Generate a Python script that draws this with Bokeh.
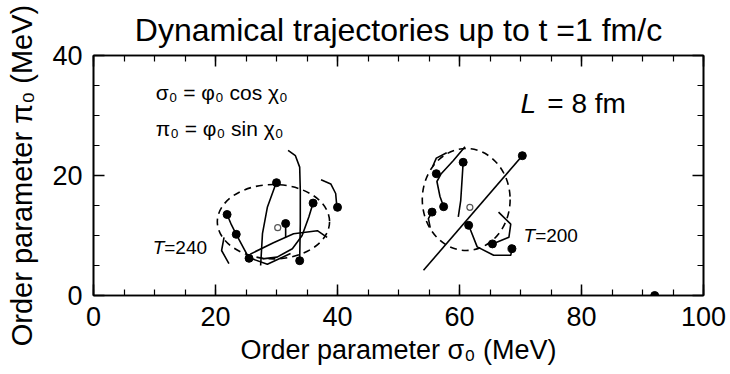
from bokeh.plotting import figure
from bokeh.models import Range1d, LinearAxis, Label, SingleIntervalTicker
from bokeh.embed import file_html
from bokeh.resources import INLINE

# ---------------- data ----------------
# T = 240 MeV cluster: trajectories up to t = 1 fm/c
traj240_x = [
    [31.9, 33.1, 33.8, 33.9, 33.9, 33.8],
    [30.0, 28.5, 27.7, 27.4],
    [37.3, 38.9, 39.7, 39.9],
    [36.0, 35.3, 34.2, 32.6, 30.1, 27.7],
    [25.7, 29.5, 32.8, 36.7, 38.3],
    [31.5, 31.5],
    [21.9, 22.6, 23.4, 25.5],
    [21.4, 21.0, 22.2],
    [25.5, 28.5, 32.3],
]
traj240_y = [
    [24.2, 23.3, 21.4, 17.5, 12.0, 5.8],
    [18.9, 14.7, 10.3, 5.0],
    [19.3, 18.6, 17.0, 14.7],
    [15.4, 13.1, 10.0, 7.8, 6.4, 6.1],
    [6.9, 8.8, 10.3, 10.8, 9.7],
    [12.2, 9.7],
    [13.5, 11.8, 10.2, 6.2],
    [9.7, 7.5, 5.3],
    [6.3, 5.2, 7.0],
]
end240_x = [21.9, 23.4, 25.5, 30.0, 31.5, 36.0, 40.0, 33.8]
end240_y = [13.5, 10.2, 6.2, 18.8, 12.0, 15.4, 14.7, 5.8]

# T = 200 MeV cluster
traj200_x = [
    [54.1, 70.3],
    [60.9, 59.0, 57.0, 56.3, 56.8, 57.4],
    [60.6, 60.4, 60.2, 59.8],
    [55.5, 54.9, 55.2],
    [61.5, 62.9, 65.6, 68.4, 68.6],
    [66.4, 68.4, 68.1, 65.4],
    [55.6, 56.2, 57.9],
]
traj200_y = [
    [4.2, 23.3],
    [24.8, 22.5, 20.3, 19.0, 16.5, 14.8],
    [22.2, 19.0, 15.8, 13.1],
    [13.9, 12.8, 11.3],
    [11.7, 8.1, 6.7, 6.7, 7.8],
    [13.9, 11.9, 9.7, 8.6],
    [21.5, 22.9, 23.8],
]
end200_x = [70.3, 60.6, 56.2, 57.4, 55.5, 61.5, 65.4, 68.6]
end200_y = [23.3, 22.2, 20.3, 14.8, 13.9, 11.7, 8.6, 7.8]

# initial-condition ellipses (centre, full width, full height)
ell_x = [29.5, 61.1]
ell_y = [12.3, 16.0]
ell_w = [18.4, 14.4]
ell_h = [12.4, 17.0]

# ellipse centres (open circles) and vacuum point
centre_x = [30.2, 61.7]
centre_y = [11.3, 14.7]
vac_x = [92.0]
vac_y = [0.0]

x_ticks_major = 20
y_ticks_major = 20

title_text = "Dynamical trajectories up to t =1 fm/c"
xlabel_text = "Order parameter σ₀ (MeV)"
ylabel_text = "Order parameter π₀ (MeV)"

# ---------------- figure ----------------
FONT = "Liberation Sans"

p = figure(width=730, height=374, x_range=Range1d(0, 100), y_range=Range1d(0, 40),
           output_backend="svg", toolbar_location=None,
           min_border_left=93, min_border_right=27, min_border_top=55, min_border_bottom=79)
p.xgrid.visible = False
p.ygrid.visible = False
p.outline_line_color = "black"
p.outline_line_width = 1.6
p.background_fill_color = "white"
p.border_fill_color = "white"

p.title.text = title_text
p.title.text_font = FONT
p.title.text_font_size = "32px"
p.title.text_font_style = "normal"
p.title.align = "center"
p.title.text_color = "black"
p.title.standoff = 16

def style_axis(ax, interval, show_labels=True):
    ax.ticker = SingleIntervalTicker(interval=interval, num_minor_ticks=4)
    ax.major_tick_in = 11
    ax.major_tick_out = 0
    ax.minor_tick_in = 6
    ax.minor_tick_out = 0
    ax.major_tick_line_width = 1.5
    ax.minor_tick_line_width = 1.2
    ax.axis_line_width = 1.6
    ax.axis_line_color = "black"
    ax.major_tick_line_color = "black"
    ax.minor_tick_line_color = "black"
    ax.major_label_text_font = FONT
    if show_labels:
        ax.major_label_text_color = "black"
        ax.major_label_text_font_size = "27px"
        ax.major_label_standoff = 11
    else:
        ax.major_label_text_color = None
        ax.major_label_text_font_size = "1px"
        ax.major_label_standoff = 0

style_axis(p.xaxis[0], x_ticks_major)
style_axis(p.yaxis[0], y_ticks_major)

for ax, txt, size, so in ((p.xaxis[0], xlabel_text, "27px", 6), (p.yaxis[0], ylabel_text, "29px", 11)):
    ax.axis_label = txt
    ax.axis_label_text_font = FONT
    ax.axis_label_text_font_size = size
    ax.axis_label_text_font_style = "normal"
    ax.axis_label_text_color = "black"
    ax.axis_label_standoff = so

top_ax = LinearAxis()
right_ax = LinearAxis()
style_axis(top_ax, x_ticks_major, show_labels=False)
style_axis(right_ax, y_ticks_major, show_labels=False)
p.add_layout(top_ax, "above")
p.add_layout(right_ax, "right")

# ---------------- glyphs ----------------
p.ellipse(x=ell_x, y=ell_y, width=ell_w, height=ell_h, fill_color=None,
          line_color="black", line_width=1.6, line_dash="7 5")
p.multi_line(traj240_x, traj240_y, line_color="black", line_width=1.6)
p.multi_line(traj200_x, traj200_y, line_color="black", line_width=1.6)
p.scatter(end240_x, end240_y, size=8, color="black")
p.scatter(end200_x, end200_y, size=8, color="black")
p.scatter(centre_x, centre_y, size=6, fill_color="white", line_color="#555555", line_width=1.2)
p.scatter(vac_x, vac_y, size=8, color="black")

# ---------------- texts inside the frame ----------------
def lab(x, y, text, size, style="normal", align="left", baseline="middle"):
    p.add_layout(Label(x=x, y=y, text=text, text_font=FONT, text_font_size=size,
                       text_font_style=style, text_align=align, text_baseline=baseline,
                       text_color="black"))

lab(10.2, 33.8, "σ₀ = φ₀ cos χ₀", "21px")
lab(10.2, 27.8, "π₀ = φ₀ sin χ₀", "21px")
lab(70.0, 32.0, "L", "28px", style="italic")
lab(74.4, 32.0, "= 8 fm", "28px")
lab(9.7, 8.0, "T", "19px", style="italic")
lab(11.6, 8.0, "=240", "19px")
lab(70.5, 10.0, "T", "19px", style="italic")
lab(72.4, 10.0, "=200", "19px")

open("out.html", "w").write(file_html(p, INLINE))
